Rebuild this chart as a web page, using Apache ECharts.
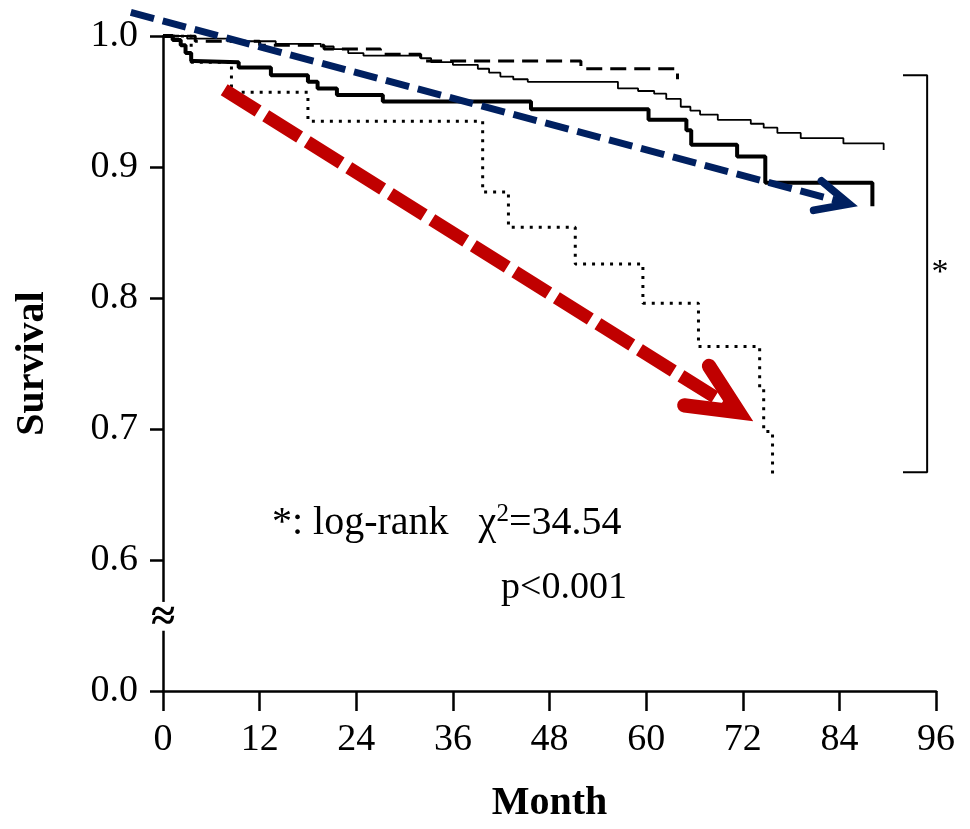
<!DOCTYPE html>
<html>
<head>
<meta charset="utf-8">
<title>Survival</title>
<script src="https://cdn.jsdelivr.net/npm/echarts@6/dist/echarts.min.js"></script>
</head>
<body style="margin:0;background:#fff">
<div id="main" style="width:970px;height:829px"></div>
<script>
// Kaplan-Meier curves, [month, survival]
var thinSurv = [[0,1],[3,0.998],[8,0.996],[14,0.994],[19.6,0.992],[21.2,0.990],[23,0.987],[24.9,0.985],
  [32,0.983],[33.3,0.980],[36,0.978],[39.1,0.975],[40.5,0.972],[41.9,0.969],[43.5,0.967],[45.3,0.965],
  [56.5,0.960],[59,0.958],[61,0.956],[62.5,0.952],[64.3,0.946],[65.5,0.943],[66.7,0.940],[68.9,0.936],
  [73,0.933],[74.6,0.930],[76.3,0.926],[79.2,0.922],[84.5,0.918],[89.5,0.913]];
var thickSurv = [[0,1],[1.2,0.997],[2.2,0.993],[2.8,0.987],[3.5,0.981],[3.9,0.980],[9.4,0.976],[13.4,0.970],
  [18.0,0.965],[19.2,0.960],[21.6,0.955],[27.3,0.950],[45.7,0.944],[60.3,0.936],[65.0,0.928],[65.6,0.917],
  [71.3,0.908],[74.8,0.888],[88.1,0.870]];
var dashedSurv = [[0,1],[4,0.996],[12,0.993],[20,0.990],[27,0.986],[32,0.981],[51.9,0.975],[63.9,0.967]];
var dottedSurv = [[0,1],[3.5,0.980],[8.5,0.957],[18.0,0.935],[39.7,0.881],[42.9,0.854],[51.2,0.826],
  [59.6,0.796],[66.5,0.763],[74.1,0.731],[74.6,0.698],[75.7,0.664]];

// significance bracket and axis break
var bracket = [[91.9,0.970],[94.9,0.970],[94.9,0.667],[91.9,0.667]];
var axisBreak = [0.546, 0.568];

// overlay arrows: [start, tip]
var blueArrow = [[-4.0,1.018],[86.3,0.870]];
var redArrow = [[7.6,0.959],[73.3,0.706]];

var serif = "'Liberation Serif','Times New Roman',serif";

var chart = echarts.init(document.getElementById('main'));

function kmSeries(data, width, type) {
  return {
    type: 'line', step: 'end', data: data, symbol: 'none', silent: true,
    lineStyle: {color: '#000', width: width, type: type}
  };
}

var option = {
  animation: false,
  backgroundColor: '#fff',
  grid: {left: 163, right: 34, top: 36, bottom: 136},
  xAxis: {
    type: 'value', min: 0, max: 96, interval: 12,
    name: 'Month', nameLocation: 'middle', nameGap: 93,
    nameTextStyle: {fontFamily: serif, fontSize: 40, fontWeight: 'bold', color: '#000'},
    axisLine: {show: true, lineStyle: {color: '#000', width: 2.5}},
    axisTick: {show: true, length: 20, lineStyle: {color: '#000', width: 2.5}},
    axisLabel: {margin: 30, fontSize: 38, fontFamily: serif, color: '#000'},
    splitLine: {show: false}
  },
  yAxis: {
    type: 'value', min: 0.5, max: 1, interval: 0.1,
    name: 'Survival', nameLocation: 'middle', nameGap: 110, nameRotate: 90,
    nameTextStyle: {fontFamily: serif, fontSize: 40, fontWeight: 'bold', color: '#000'},
    axisLine: {show: true, lineStyle: {color: '#000', width: 2.5}},
    axisTick: {show: true, length: 13, lineStyle: {color: '#000', width: 2.5}},
    axisLabel: {
      margin: 25, fontSize: 38, fontFamily: serif, color: '#000',
      formatter: function (v) { return v < 0.55 ? '0.0' : v.toFixed(1); }
    },
    splitLine: {show: false}
  },
  series: [
    kmSeries(thinSurv, 1.8, 'solid'),
    kmSeries(thickSurv, 4, 'solid'),
    kmSeries(dashedSurv, 3, [16, 8]),
    kmSeries(dottedSurv, 3, [3, 6]),
    {
      type: 'line', data: bracket, symbol: 'none', silent: true,
      lineStyle: {color: '#000', width: 2}
    }
  ]
};
chart.setOption(option);

function px(p) { return chart.convertToPixel({gridIndex: 0}, p); }

function arrow(pts, color, width, dash, arm) {
  var a = px(pts[0]), t = px(pts[1]);
  var ang = Math.atan2(t[1] - a[1], t[0] - a[0]);
  var spread = 25 * Math.PI / 180;
  var hw = width * 1.1;
  // pull the joint back so the outer edge of the head lands on the tip
  var pull = hw / 2 / Math.sin(spread);
  var b = [t[0] - pull * Math.cos(ang), t[1] - pull * Math.sin(ang)];
  var end = [b[0] - width * Math.cos(ang), b[1] - width * Math.sin(ang)];
  var h1 = [b[0] + arm * Math.cos(ang + Math.PI - spread), b[1] + arm * Math.sin(ang + Math.PI - spread)];
  var h2 = [b[0] + arm * Math.cos(ang + Math.PI + spread), b[1] + arm * Math.sin(ang + Math.PI + spread)];
  return [
    {type: 'polyline', z: 10, shape: {points: [a, end]},
      style: {stroke: color, lineWidth: width, lineDash: dash, fill: null}},
    {type: 'polyline', z: 10, shape: {points: [h1, b, h2]},
      style: {stroke: color, lineWidth: hw, lineJoin: 'miter', lineCap: 'round', fill: null}}
  ];
}

var yb0 = px([0, axisBreak[0]]), yb1 = px([0, axisBreak[1]]);

var graphics = [
  {type: 'rect', z: 5, shape: {x: yb1[0] - 8, y: yb1[1], width: 16, height: yb0[1] - yb1[1]},
    style: {fill: '#fff'}},
  {type: 'text', z: 6, x: yb0[0], y: (yb0[1] + yb1[1]) / 2 + 2,
    style: {text: '≈', font: 'bold 44px ' + serif, fill: '#000', align: 'center', verticalAlign: 'middle'}},
  {type: 'text', z: 6, x: 272, y: 523,
    style: {
      text: '{t|*: log-rank   χ}{s|2}{t|=34.54}', fill: '#000', verticalAlign: 'middle',
      rich: {
        t: {fontFamily: serif, fontSize: 40, fill: '#000'},
        s: {fontFamily: serif, fontSize: 25, fill: '#000', padding: [0, 0, 18, 0]}
      }
    }},
  {type: 'text', z: 6, x: 627, y: 588,
    style: {text: 'p<0.001', font: '38px ' + serif, fill: '#000', align: 'right', verticalAlign: 'middle'}},
  {type: 'text', z: 6, x: 940, y: 273,
    style: {text: '*', font: '34px ' + serif, fill: '#000', align: 'center', verticalAlign: 'middle'}}
];
graphics = graphics.concat(arrow(blueArrow, '#002060', 7, [24, 9], 36));
graphics = graphics.concat(arrow(redArrow, '#c00000', 13, [40, 9], 55));

chart.setOption({graphic: graphics});
</script>
</body>
</html>
